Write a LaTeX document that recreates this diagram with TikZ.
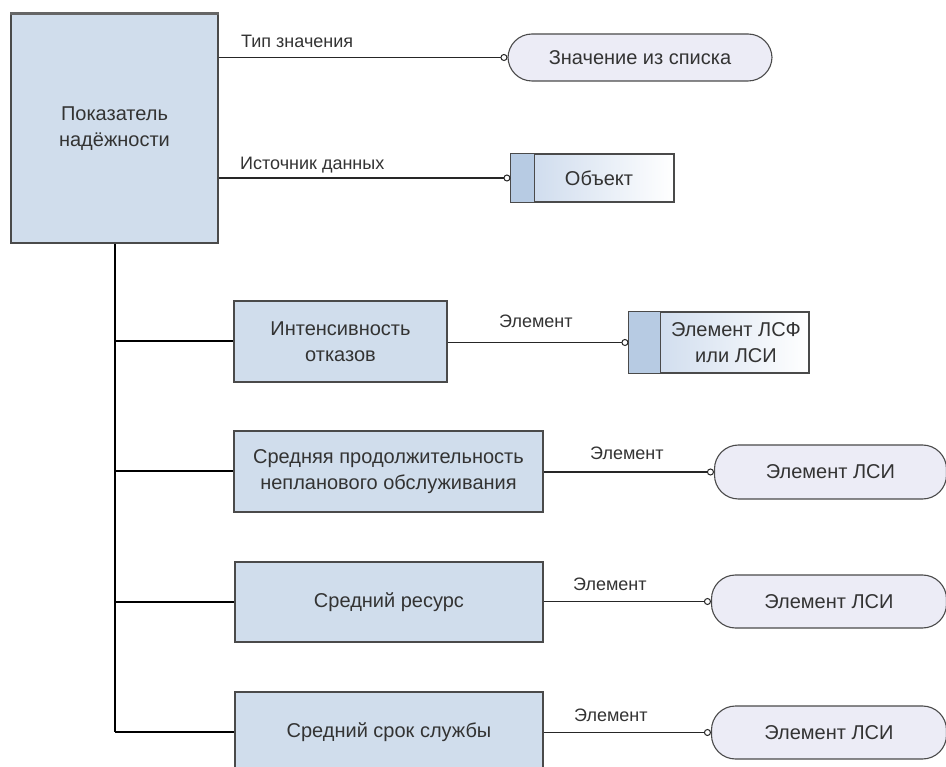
\documentclass[tikz,border=0pt]{standalone}
\usepackage{fontspec}
\setmainfont{Liberation Sans}
\usetikzlibrary{arrows.meta}
\definecolor{boxfill}{HTML}{D0DDEC}
\definecolor{pillfill}{HTML}{ECECF6}
\definecolor{edge}{HTML}{4A4A4A}
\definecolor{txt}{HTML}{333333}
\definecolor{objleft}{HTML}{B7CBE3}
\definecolor{objmid}{HTML}{C8D7EB}
\tikzset{
  x=1pt, y=-1pt,
  every node/.style={text=txt, font=\fontsize{20}{26}\selectfont},
  ebox/.style={draw=edge, line width=1.3pt, fill=boxfill, align=center, inner sep=0pt},
  pill/.style={draw=edge, line width=1.1pt, fill=pillfill, rounded corners=24pt, inner sep=0pt},
  objbox/.style={draw=edge, line width=1.1pt, left color=objmid, right color=white, inner sep=0pt},
  lab/.style={font=\fontsize{18}{22}\selectfont, anchor=base west, inner sep=0pt},
  trunk/.style={line width=2pt, draw=black},
  conn/.style={line width=1.4pt, draw=black!85, -{Circle[open, fill=white, length=7pt, width=7pt, line width=1pt]}},
  plain/.style={inner sep=0pt, align=center}
}
\begin{document}
\begin{tikzpicture}
\clip (0,0) rectangle (946,767);
\fill[white] (0,0) rectangle (946,767);

% main box
\node[ebox, minimum width=207pt, minimum height=229pt] (main) at (114.5,128.5) {Показатель\\надёжности};
\draw[line width=3pt, draw=black!60] (main.north west) -- (main.north east);

% child boxes
\node[ebox, minimum width=213pt, minimum height=81pt] (b1) at (340.5,341.5) {Интенсивность\\отказов};
\node[ebox, minimum width=309pt, minimum height=81pt] (b2) at (388.5,471.5) {Средняя продолжительность\\непланового обслуживания};
\node[ebox, minimum width=308pt, minimum height=80pt] (b3) at (389,602) {Средний ресурс};
\node[ebox, minimum width=308pt, minimum height=80pt] (b4) at (389,732) {Средний срок службы};

% targets
\node[pill, minimum width=264pt, minimum height=47pt] (t1) at (640,57.5) {Значение из списка};

\node[objbox, minimum width=163pt, minimum height=48pt] (t2) at (592.5,178) {};
\fill[objleft] ([shift={(0.6pt,-0.6pt)}]t2.north west) rectangle ([shift={(24pt,0.6pt)}]t2.south west);
\draw[edge, line width=1.1pt] (t2.north west) rectangle (t2.south east);
\draw[edge, line width=1.1pt] ([xshift=24pt]t2.north west) -- ([xshift=24pt]t2.south west);
\node[plain] (t2t) at (599,178) {Объект};

\node[objbox, minimum width=180pt, minimum height=61pt] (t3) at (719,342.5) {};
\fill[objleft] ([shift={(0.6pt,-0.6pt)}]t3.north west) rectangle ([shift={(32pt,0.6pt)}]t3.south west);
\draw[edge, line width=1.1pt] (t3.north west) rectangle (t3.south east);
\draw[edge, line width=1.1pt] ([xshift=32pt]t3.north west) -- ([xshift=32pt]t3.south west);
\node[plain] (t3t) at (736,342.5) {Элемент ЛСФ\\или ЛСИ};

\node[pill, minimum width=232pt, minimum height=54pt] (t4) at (830.5,472) {Элемент ЛСИ};
\node[pill, minimum width=235pt, minimum height=53pt] (t5) at (829,601.5) {Элемент ЛСИ};
\node[pill, minimum width=235pt, minimum height=53pt] (t6) at (829,732.5) {Элемент ЛСИ};

% trunk
\coordinate (tb) at (115,732);
\draw[trunk] (main.south -| tb) -- (tb);
\draw[trunk] (tb |- b1.west) -- (b1.west);
\draw[trunk] (tb |- b2.west) -- (b2.west);
\draw[trunk] (tb |- b3.west) -- (b3.west);
\draw[trunk] (tb) -- (b4.west);

% connectors
\draw[conn] (main.east |- t1.west) -- (t1.west);
\draw[conn] (main.east |- t2.west) -- (t2.west);
\draw[conn] (b1.east |- t3.west) -- (t3.west);
\draw[conn] (b2.east |- t4.west) -- (t4.west);
\draw[conn] (b3.east |- t5.west) -- (t5.west);
\draw[conn] (b4.east |- t6.west) -- (t6.west);

% labels
\node[lab] (l1) at (241,48) {Тип значения};
\node[lab] (l2) at (240,170) {Источник данных};
\node[lab] (l3) at (499,328) {Элемент};
\node[lab] (l4) at (590,460) {Элемент};
\node[lab] (l5) at (573,590) {Элемент};
\node[lab] (l6) at (574,721) {Элемент};
\end{tikzpicture}
\end{document}
